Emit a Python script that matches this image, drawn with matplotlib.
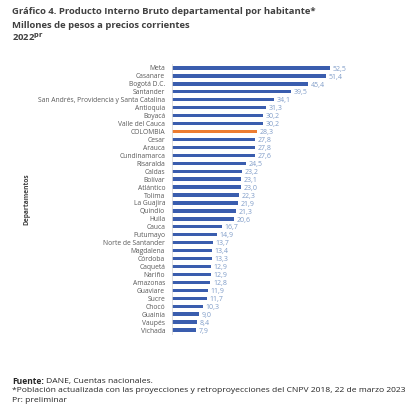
import matplotlib
matplotlib.use("Agg")
import matplotlib.pyplot as plt

plt.rcParams['font.family'] = ['Open Sans', 'DejaVu Sans']

departamentos = [
    "Meta", "Casanare", "Bogotá D.C.", "Santander",
    "San Andrés, Providencia y Santa Catalina", "Antioquia", "Boyacá",
    "Valle del Cauca", "COLOMBIA", "Cesar", "Arauca", "Cundinamarca",
    "Risaralda", "Caldas", "Bolívar", "Atlántico", "Tolima", "La Guajira",
    "Quindío", "Huila", "Cauca", "Putumayo", "Norte de Santander",
    "Magdalena", "Córdoba", "Caquetá", "Nariño", "Amazonas", "Guaviare",
    "Sucre", "Chocó", "Guainía", "Vaupés", "Vichada",
]
pib = [
    52.5, 51.4, 45.4, 39.5, 34.1, 31.3, 30.2, 30.2, 28.3, 27.8, 27.8, 27.6,
    24.5, 23.2, 23.1, 23.0, 22.3, 21.9, 21.3, 20.6, 16.7, 14.9, 13.7, 13.4,
    13.3, 12.9, 12.9, 12.8, 11.9, 11.7, 10.3, 9.0, 8.4, 7.9,
]

azul = "#3A5DAE"
naranja = "#ED7D31"
colores = [naranja if d == "COLOMBIA" else azul for d in departamentos]

fig = plt.figure(figsize=(4.2, 4.18), dpi=100)
ax = fig.add_axes([172 / 420, 1 - 334 / 418, 210 / 420, 270 / 418])

pos = list(range(len(departamentos)))
ax.barh(pos, pib, height=0.42, color=colores)
ax.set_ylim(len(departamentos) - 0.5, -0.5)
ax.set_xlim(0, 70)

for y, v in zip(pos, pib):
    ax.text(v + 0.9, y + 0.15, f"{v:.1f}".replace(".", ","), va="center",
            ha="left", fontsize=5.0, color="#7F9CC8")

ax.set_yticks(pos)
ax.set_yticklabels(departamentos, fontsize=4.9, color="#595959")
ax.tick_params(axis="y", length=0, pad=5)
ax.set_xticks([])
for s in ["top", "right", "bottom"]:
    ax.spines[s].set_visible(False)
ax.spines["left"].set_color("#D9D9D9")
ax.spines["left"].set_linewidth(0.6)

fig.text(27 / 420, 1 - 199 / 418, "Departamentos", rotation=90, ha="center",
         va="center", fontsize=4.8, fontweight="bold", color="#404040")

titulo = ["Gráfico 4. Producto Interno Bruto departamental por habitante*",
          "Millones de pesos a precios corrientes"]
fig.text(12 / 420, 1 - 12 / 418, titulo[0], fontsize=6.8, fontweight="bold",
         color="#404040", va="center")
fig.text(12 / 420, 1 - 25 / 418, titulo[1], fontsize=6.8, fontweight="bold",
         color="#404040", va="center")
fig.text(12 / 420, 1 - 37 / 418, r"2022$^{\mathbf{pr}}$", fontsize=6.8,
         fontweight="bold", color="#404040", va="center")

# nota al pie: "Fuente:" en negrita seguido del resto
fz = 6.1
t = fig.text(12 / 420, 1 - 381 / 418, "Fuente:", fontsize=fz,
             fontweight="bold", color="#262626", va="center")
fig.canvas.draw()
bb = t.get_window_extent()
fig.text(bb.x1 / 420 + 2 / 420, 1 - 381 / 418, "DANE, Cuentas nacionales.",
         fontsize=fz, color="#262626", va="center")
fig.text(12 / 420, 1 - 391 / 418,
         "*Población actualizada con las proyecciones y retroproyecciones del CNPV 2018, 22 de marzo 2023",
         fontsize=fz, color="#262626", va="center")
fig.text(12 / 420, 1 - 401 / 418, "Pr: preliminar", fontsize=fz,
         color="#262626", va="center")

fig.savefig("out.png", dpi=100)
